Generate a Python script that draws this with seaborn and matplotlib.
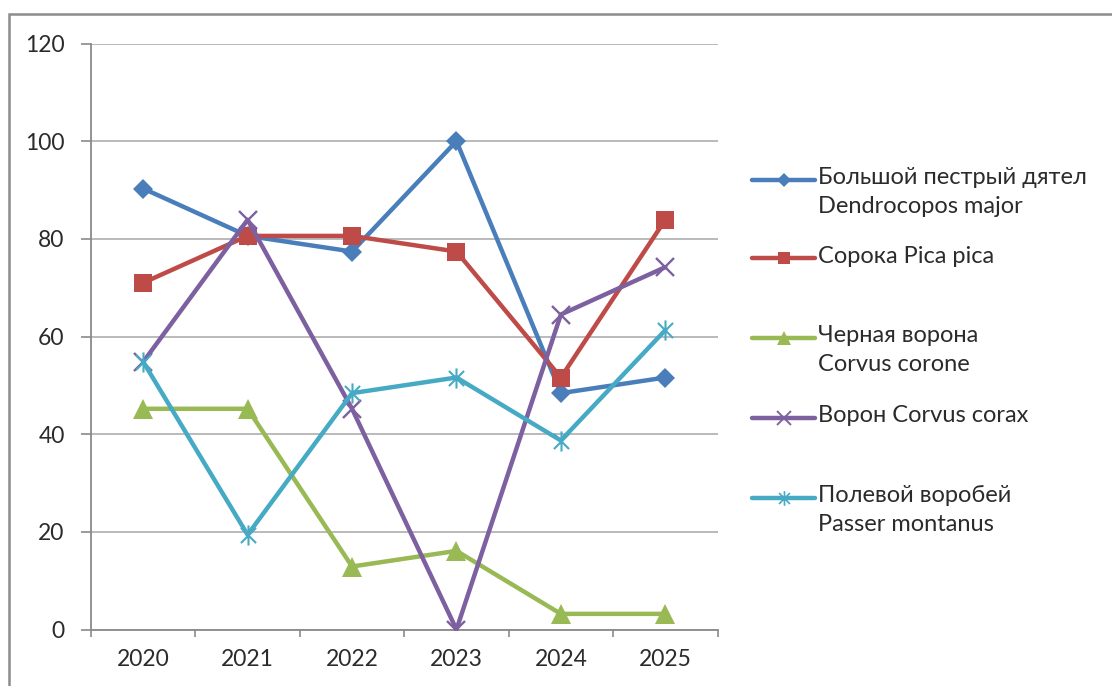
import numpy as np
import matplotlib
matplotlib.use("Agg")
import matplotlib.pyplot as plt
from matplotlib.path import Path
from matplotlib.lines import Line2D
from matplotlib.patches import Rectangle
import seaborn as sns

# Years of observation (categorical x axis)
years = ["2020", "2021", "2022", "2023", "2024", "2025"]

# Occurrence, % of counts, per species
dendrocopos_major = [90.3, 80.6, 77.4, 100.0, 48.4, 51.6]
pica_pica = [71.0, 80.6, 80.6, 77.4, 51.6, 83.9]
corvus_corone = [45.2, 45.2, 12.9, 16.1, 3.2, 3.2]
corvus_corax = [54.8, 83.9, 45.2, 0.0, 64.5, 74.2]
passer_montanus = [54.8, 19.4, 48.4, 51.6, 38.7, 61.3]

species_labels = [
    "Большой пестрый дятел\nDendrocopos major",
    "Сорока Pica pica",
    "Черная ворона\nCorvus corone",
    "Ворон Corvus corax",
    "Полевой воробей\nPasser montanus",
]

y_ticks = [0, 20, 40, 60, 80, 100, 120]

sns.set_theme(style="white")
plt.rcParams["font.family"] = ["Lato", "Open Sans", "DejaVu Sans"]

# Asterisk marker: vertical stroke plus two diagonals
star_path = Path(
    [(0, -1), (0, 1), (-0.75, -0.75), (0.75, 0.75), (-0.75, 0.75), (0.75, -0.75)],
    [Path.MOVETO, Path.LINETO, Path.MOVETO, Path.LINETO, Path.MOVETO, Path.LINETO],
)

styles = [
    dict(color="#4A7EBB", marker="D", ms=10, mew=0, lms=7),
    dict(color="#BE4B48", marker="s", ms=12.5, mew=0, lms=9),
    dict(color="#98B954", marker="^", ms=14.5, mew=0, lms=10.5),
    dict(color="#7D60A0", marker="x", ms=13.5, mew=1.7, lms=10),
    dict(color="#46AAC5", marker=star_path, ms=14.5, mew=1.5, lms=10.5),
]
series = [dendrocopos_major, pica_pica, corvus_corone, corvus_corax, passer_montanus]

W, H = 1112, 686
fig = plt.figure(figsize=(W / 100, H / 100), dpi=100)
ax = fig.add_axes([91 / W, 1 - 629.5 / H, (717.5 - 91) / W, (629.5 - 43.5) / H])

x = np.arange(len(years))
for vals, st in zip(series, styles):
    sns.lineplot(
        x=x, y=vals, ax=ax, color=st["color"], lw=3.2,
        marker=st["marker"], markersize=st["ms"], markeredgewidth=st["mew"],
        markeredgecolor=st["color"], markerfacecolor=st["color"],
        legend=False, zorder=3,
    )

ax.set_xlim(-0.5, len(years) - 0.5)
ax.set_ylim(0, 120)
ax.set_yticks(y_ticks)
ax.set_yticklabels([str(v) for v in y_ticks])
ax.yaxis.grid(True, color="#B4B4B4", lw=1.3)
ax.xaxis.grid(False)

# Tick marks on category boundaries, labels at category centres
ax.set_xticks(np.arange(-0.5, len(years), 1.0))
ax.set_xticklabels([""] * (len(years) + 1))
ax.set_xticks(x, minor=True)
ax.set_xticklabels(years, minor=True)
ax.tick_params(axis="x", which="major", direction="out", length=5, width=1.2,
               color="#8A8A8A", bottom=True)
ax.tick_params(axis="x", which="minor", length=0, pad=14, labelsize=16.5,
               labelcolor="#2B2B2B")
ax.tick_params(axis="y", direction="out", length=7, width=1.2, color="#8A8A8A",
               left=True, pad=12, labelsize=16.5, labelcolor="#2B2B2B")

for s in ["top", "right"]:
    ax.spines[s].set_visible(False)
for s in ["left", "bottom"]:
    ax.spines[s].set_color("#8A8A8A")
    ax.spines[s].set_linewidth(1.3)

# Legend on the right, first text line level with the key
key_x0, key_x1 = 752 / W, 815 / W
text_x = 818 / W
rows_y = [180, 258, 338, 418, 498]
for lab, st, ry in zip(species_labels, styles, rows_y):
    yy = 1 - ry / H
    fig.add_artist(Line2D([key_x0, key_x1], [yy, yy], transform=fig.transFigure,
                          color=st["color"], lw=3.2))
    fig.add_artist(Line2D([(key_x0 + key_x1) / 2], [yy], transform=fig.transFigure,
                          marker=st["marker"], ms=st["lms"],
                          mew=st["mew"] * 0.8, color=st["color"],
                          markerfacecolor=st["color"], markeredgecolor=st["color"],
                          linestyle="none"))
    fig.text(text_x, yy + 12.5 / H, lab, ha="left", va="top", fontsize=17,
             color="#2B2B2B", linespacing=1.42, transform=fig.transFigure)

# Chart area border
fig.add_artist(Rectangle((8.5 / W, -0.2), 1.3, 1 - 14 / H + 0.2, transform=fig.transFigure,
                         fill=False, edgecolor="#8C8C8C", lw=1.8))

fig.savefig("out.png", dpi=100)
